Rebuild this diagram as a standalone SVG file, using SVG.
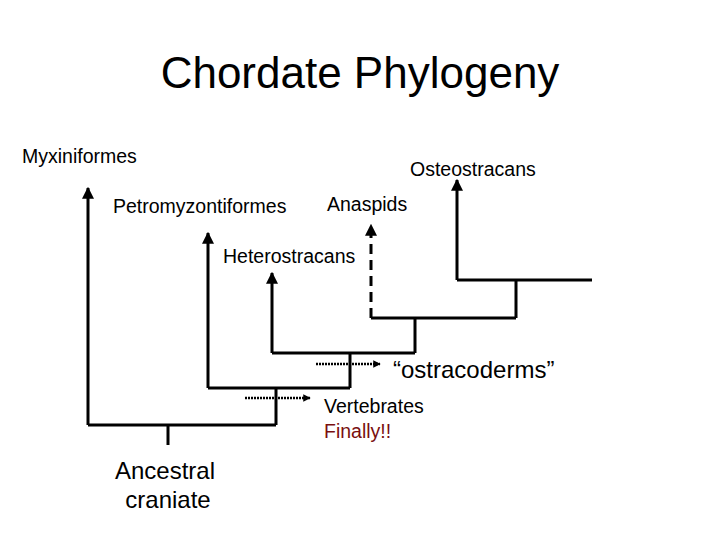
<svg xmlns="http://www.w3.org/2000/svg" width="720" height="540" viewBox="0 0 720 540">
<style>
text{font-family:"Liberation Sans",Arial,sans-serif;fill:#000}
.s{font-size:19.5px}
.b{font-size:24px}
.l{fill:none;stroke:#000;stroke-width:3}
.d{fill:none;stroke:#000;stroke-width:3;stroke-dasharray:10,6}
.o{fill:none;stroke:#000;stroke-width:2.5;stroke-dasharray:2,1}
</style>
<defs>
<marker id="a" viewBox="0 0 10 10" refX="9" refY="5" markerWidth="4" markerHeight="4" orient="auto"><path d="M0,0L10,5L0,10z" fill="#000"/></marker>
<marker id="s" viewBox="0 0 10 10" refX="9" refY="5" markerWidth="3" markerHeight="3" orient="auto"><path d="M0,0L10,5L0,10z" fill="#000"/></marker>
</defs>
<rect width="720" height="540" fill="#fff"/>
<text x="360" y="88" font-size="44" text-anchor="middle">Chordate Phylogeny</text>
<g id="connectors">
<path class="l" d="M168,445V425M88,425H276M88,425V188" marker-end="url(#a)"/>
<path class="l" d="M276,425V388M208,388H350M208,388V233" marker-end="url(#a)"/>
<path class="l" d="M350,388V353M272,353H415M272,353V273" marker-end="url(#a)"/>
<path class="l" d="M415,353V318M371,318H516"/>
<path class="d" d="M371,318V225" marker-end="url(#a)"/>
<path class="l" d="M516,318V280M457,280H592M457,280V180" marker-end="url(#a)"/>
<path class="o" d="M245,398H310" marker-end="url(#s)"/>
<path class="o" d="M316,364H380" marker-end="url(#s)"/>
</g>
<g id="n-myx"><text class="s" x="22" y="163">Myxiniformes</text></g>
<g id="n-ost"><text class="s" x="410" y="176">Osteostracans</text></g>
<g id="n-pet"><text class="s" x="113" y="213">Petromyzontiformes</text></g>
<g id="n-ana"><text class="s" x="327" y="211">Anaspids</text></g>
<g id="n-het"><text class="s" x="223" y="263">Heterostracans</text></g>
<g id="n-ostra"><text class="b" x="393" y="378">“ostracoderms”</text></g>
<g id="n-vert"><text class="s" x="324" y="413">Vertebrates</text><text class="s" x="324" y="438" style="fill:#7a0f0f">Finally!!</text></g>
<g id="n-anc"><text class="b" x="165" y="479" text-anchor="middle">Ancestral</text><text class="b" x="168" y="508" text-anchor="middle">craniate</text></g>
</svg>
